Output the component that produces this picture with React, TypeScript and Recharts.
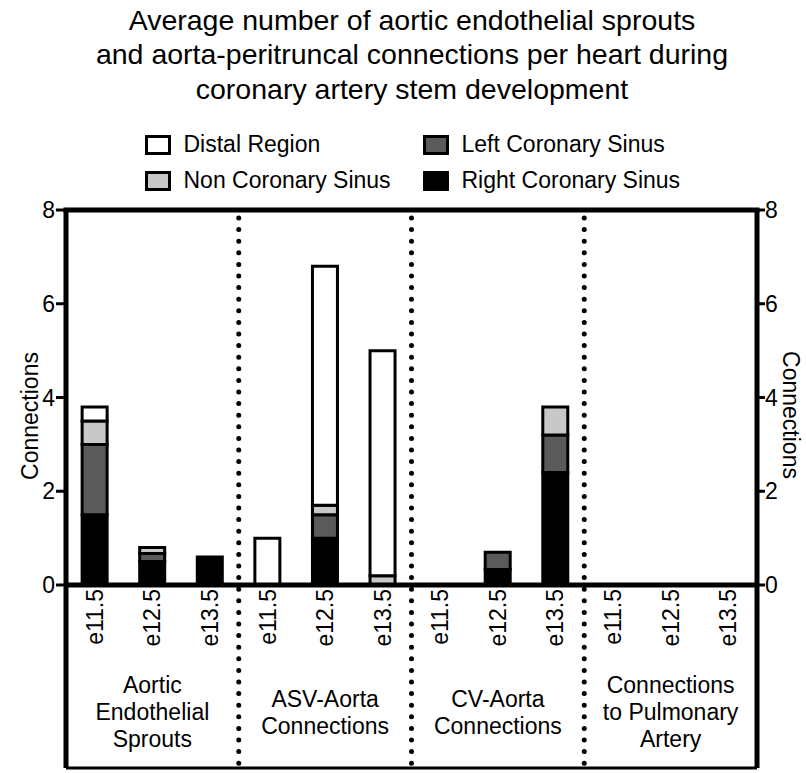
import React from 'react'
import { ComposedChart, Bar, Line, XAxis, YAxis, Customized } from 'recharts'

const stages = ['e11.5', 'e12.5', 'e13.5']
const groups = [
  ['Aortic', 'Endothelial', 'Sprouts'],
  ['ASV-Aorta', 'Connections'],
  ['CV-Aorta', 'Connections'],
  ['Connections', 'to Pulmonary', 'Artery'],
]
const rightSinus = [1.5, 0.5, 0.6, 0, 1.0, 0, 0, 0.33, 2.4, 0, 0, 0]
const leftSinus = [1.5, 0.17, 0, 0, 0.5, 0, 0, 0.37, 0.8, 0, 0, 0]
const nonSinus = [0.5, 0.13, 0, 0, 0.2, 0.2, 0, 0, 0.6, 0, 0, 0]
const distal = [0.3, 0, 0, 1.0, 5.1, 4.8, 0, 0, 0, 0, 0, 0]
const yTicks = [0, 2, 4, 6, 8]

const series = [
  { key: 'right', name: 'Right Coronary Sinus', color: '#000000' },
  { key: 'left', name: 'Left Coronary Sinus', color: '#5a5a5a' },
  { key: 'non', name: 'Non Coronary Sinus', color: '#c8c8c8' },
  { key: 'distal', name: 'Distal Region', color: '#ffffff' },
]

const rows = rightSinus.map((_, i) => ({
  id: `${Math.floor(i / 3)}-${stages[i % 3]}`,
  right: rightSinus[i],
  left: leftSinus[i],
  non: nonSinus[i],
  distal: distal[i],
}))

const FONT = '"Liberation Sans", Arial, sans-serif'
const W = 806
const H = 773
const LEFT = 66
const RIGHT = 757
const TOP = 210
const BASE = 585
const BOTTOM = 768

const XTick = (props: any) => {
  const { x, payload } = props
  const i = payload.index
  const lines = groups[Math.floor(i / 3)]
  return (
    <g>
      <text
        transform={`translate(${x},${BASE + 4}) rotate(-90)`}
        textAnchor="end"
        dominantBaseline="central"
        fontSize={23}
        fontFamily={FONT}
        fill="#000"
      >
        {stages[i % 3]}
      </text>
      {i % 3 === 1 && (
        <text textAnchor="middle" fontSize={23} fontFamily={FONT} fill="#000">
          {lines.map((l, k) => (
            <tspan key={k} x={x} y={712 + (k - (lines.length - 1) / 2) * 27} dominantBaseline="central">
              {l}
            </tspan>
          ))}
        </text>
      )}
    </g>
  )
}

const Overlay = () => {
  const gw = (RIGHT - LEFT) / 4
  const legend = [
    { s: series[3], x: 146.5, y: 145 },
    { s: series[2], x: 146.5, y: 181 },
    { s: series[1], x: 424.5, y: 145 },
    { s: series[0], x: 424.5, y: 181 },
  ]
  return (
    <g>
      <line x1={LEFT - 2.5} x2={RIGHT + 2.5} y1={TOP} y2={TOP} stroke="#000" strokeWidth={5} />
      <line x1={LEFT} x2={LEFT} y1={BASE} y2={BOTTOM} stroke="#000" strokeWidth={5} />
      <line x1={RIGHT} x2={RIGHT} y1={BASE} y2={BOTTOM} stroke="#000" strokeWidth={5} />
      <line x1={LEFT} x2={RIGHT} y1={BOTTOM} y2={BOTTOM} stroke="#000" strokeWidth={3} />
      {[1, 2, 3].map((k) => (
        <line
          key={k}
          x1={LEFT + gw * k}
          x2={LEFT + gw * k}
          y1={TOP + 8}
          y2={BOTTOM}
          stroke="#000"
          strokeWidth={5}
          strokeLinecap="round"
          strokeDasharray="0 11.6"
        />
      ))}
      <text fontSize={28.5} fontFamily={FONT} textAnchor="middle" fill="#000">
        <tspan x={412} y={29.5}>Average number of aortic endothelial sprouts</tspan>
        <tspan x={412} y={64}>and aorta-peritruncal connections per heart during</tspan>
        <tspan x={412} y={98.5}>coronary artery stem development</tspan>
      </text>
      {legend.map(({ s, x, y }) => (
        <g key={s.key}>
          <rect x={x} y={y - 8.5} width={23} height={17} fill={s.color} stroke="#000" strokeWidth={3} />
          <text x={x + 37} y={y + 7} fontSize={23} fontFamily={FONT} fill="#000">
            {s.name}
          </text>
        </g>
      ))}
      <text
        transform="translate(38,416) rotate(-90)"
        textAnchor="middle"
        fontSize={23}
        fontFamily={FONT}
        fill="#000"
      >
        Connections
      </text>
      <text
        transform="translate(783,415) rotate(90)"
        textAnchor="middle"
        fontSize={23}
        fontFamily={FONT}
        fill="#000"
      >
        Connections
      </text>
    </g>
  )
}

export default function App() {
  const tickStyle = { fontSize: 23, fontFamily: FONT, fill: '#000' }
  return (
    <div style={{ position: 'absolute', left: 0, top: 0, background: '#fff' }}>
      <ComposedChart
        width={W}
        height={H}
        data={rows}
        margin={{ top: TOP, right: W - RIGHT - 40, bottom: H - BASE - 60, left: LEFT - 46 }}
        barCategoryGap="28%"
      >
        <XAxis
          dataKey="id"
          height={60}
          interval={0}
          tickLine={false}
          axisLine={{ stroke: '#000', strokeWidth: 5 }}
          tick={<XTick />}
        />
        <YAxis
          yAxisId="l"
          width={46}
          domain={[0, 8]}
          ticks={yTicks}
          interval={0}
          tickSize={10}
          tickMargin={1}
          tickLine={{ stroke: '#000', strokeWidth: 3 }}
          axisLine={{ stroke: '#000', strokeWidth: 5 }}
          tick={tickStyle}
        />
        <YAxis
          yAxisId="r"
          orientation="right"
          width={40}
          domain={[0, 8]}
          ticks={yTicks}
          interval={0}
          tickSize={8}
          tickMargin={0}
          tickLine={{ stroke: '#000', strokeWidth: 3 }}
          axisLine={{ stroke: '#000', strokeWidth: 5 }}
          tick={tickStyle}
        />
        {series.map((s) => (
          <Bar
            key={s.key}
            dataKey={s.key}
            name={s.name}
            stackId="a"
            yAxisId="l"
            fill={s.color}
            stroke="#000"
            strokeWidth={3}
            isAnimationActive={false}
          />
        ))}
        <Line
          yAxisId="r"
          dataKey="right"
          stroke="none"
          strokeWidth={0}
          dot={false}
          activeDot={false}
          legendType="none"
          isAnimationActive={false}
        />
        <Customized component={<Overlay />} />
      </ComposedChart>
    </div>
  )
}
